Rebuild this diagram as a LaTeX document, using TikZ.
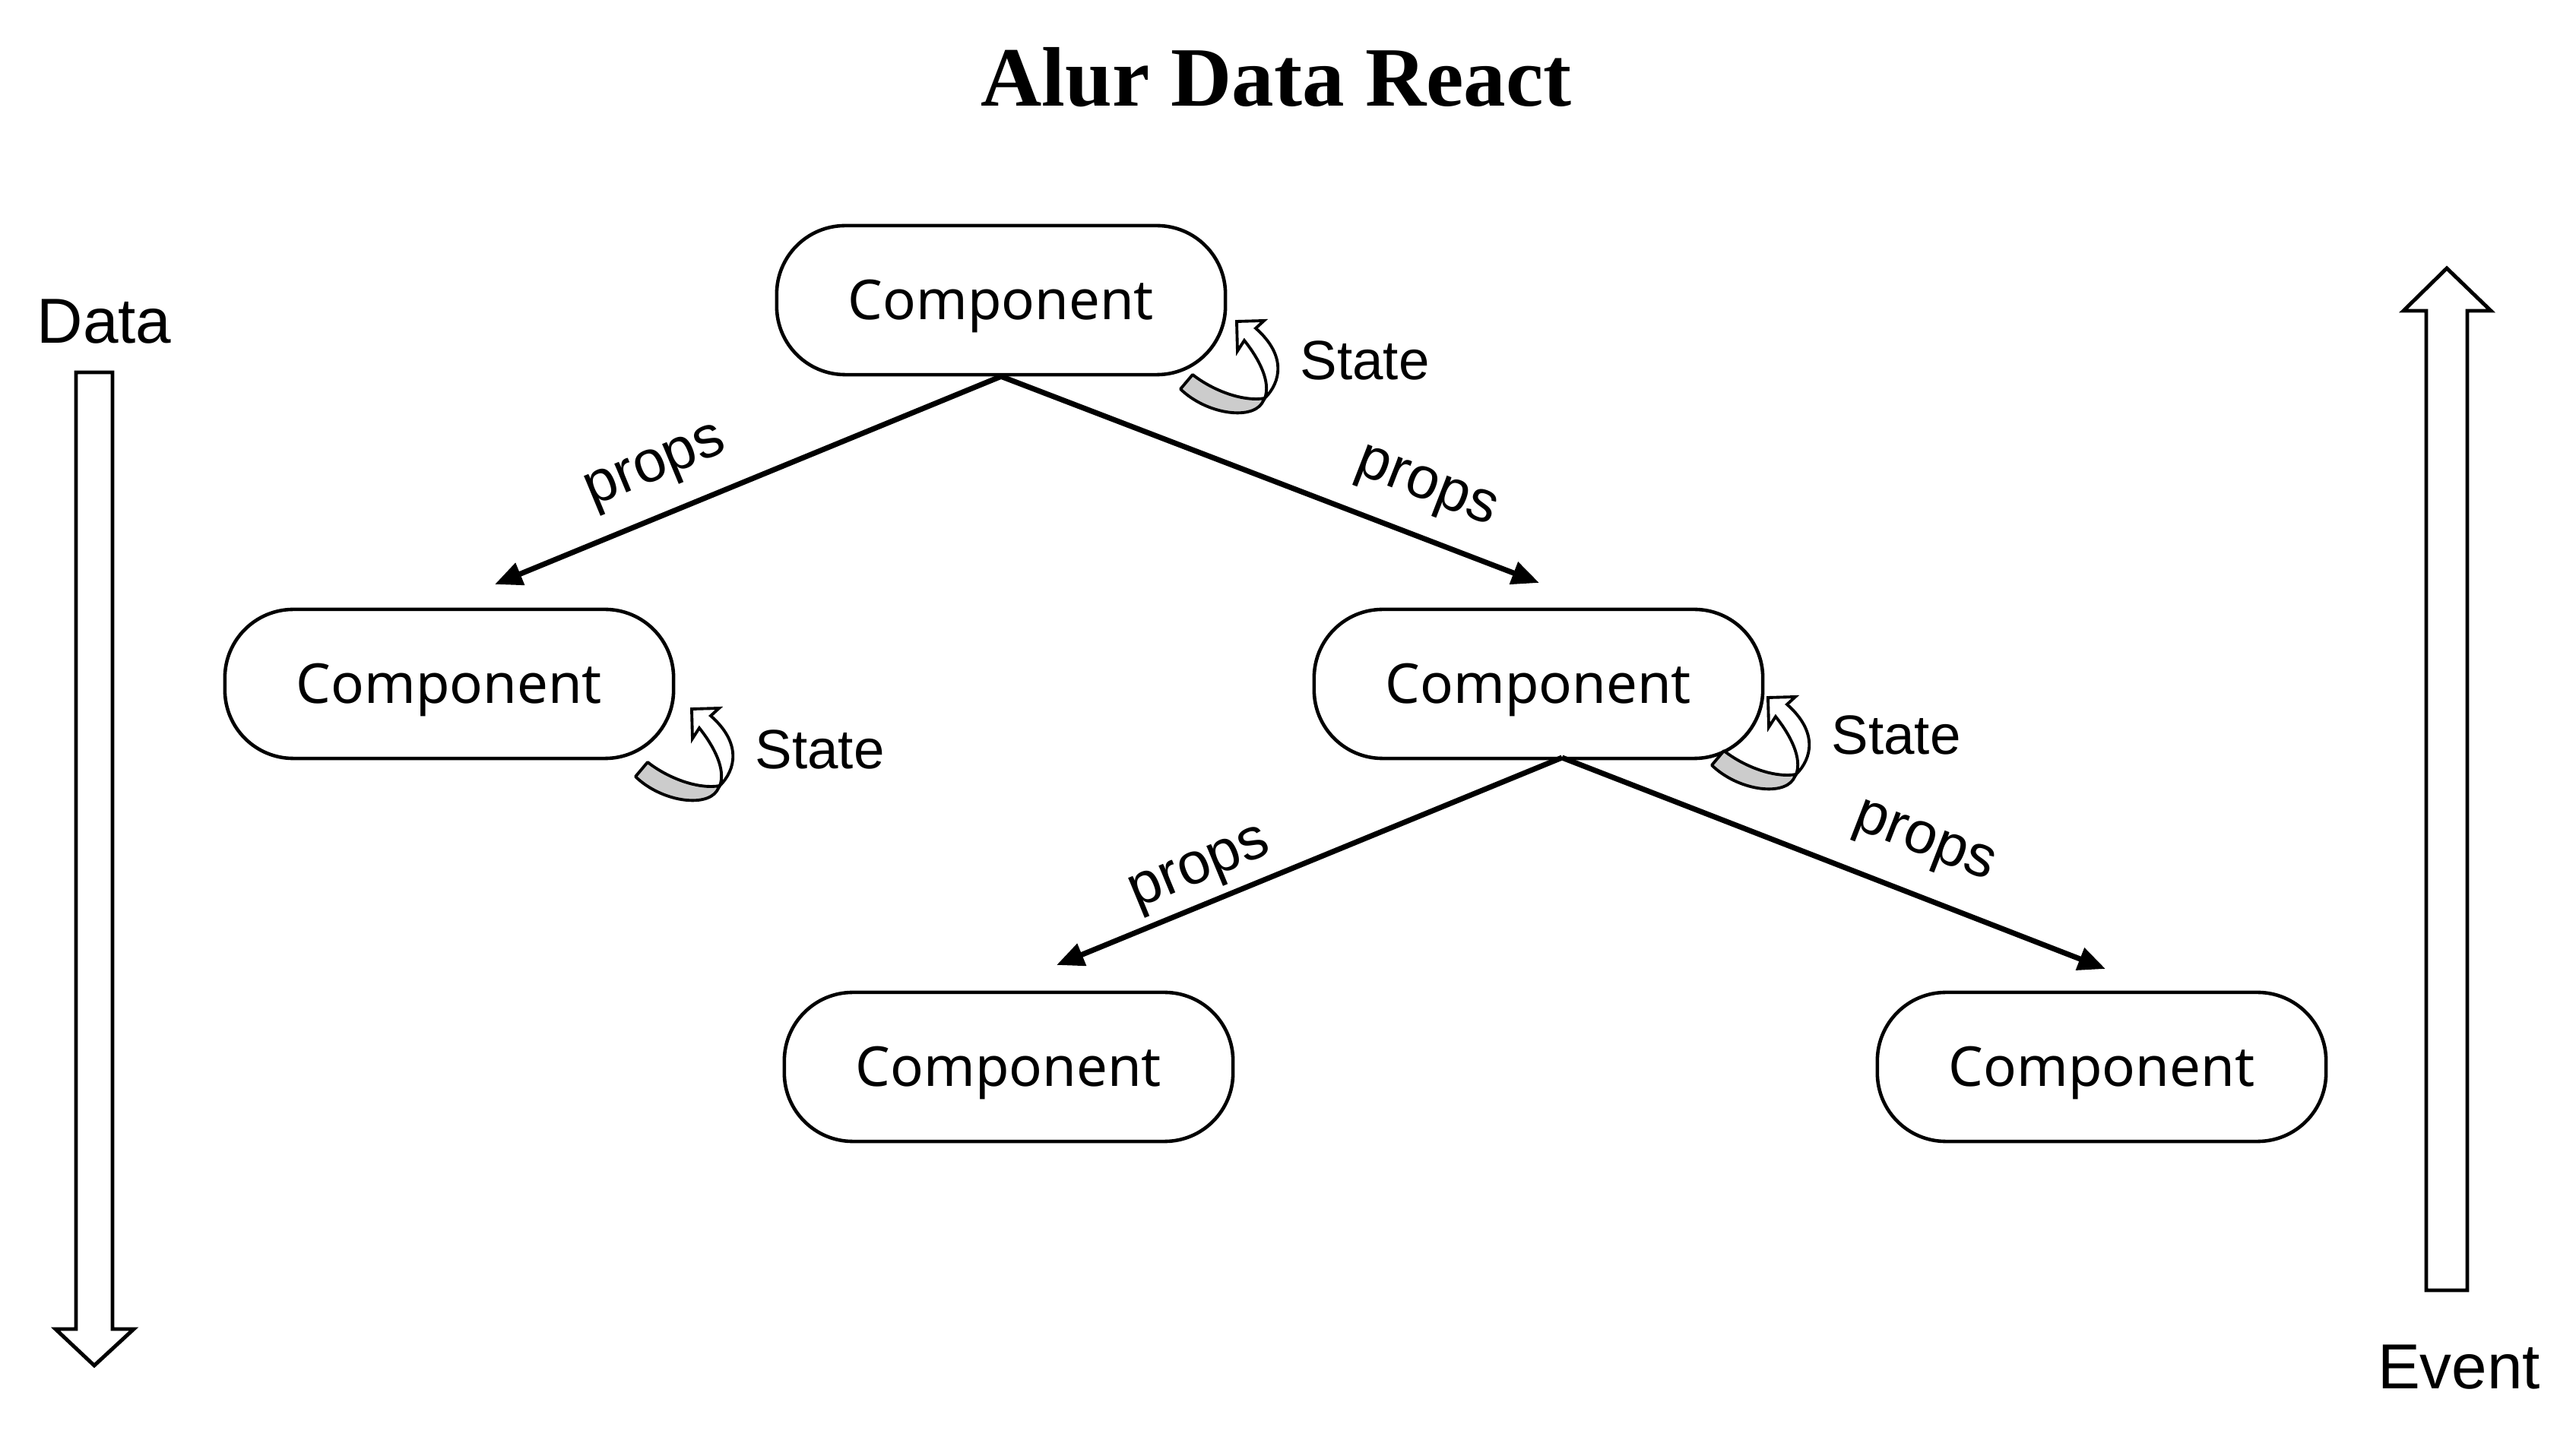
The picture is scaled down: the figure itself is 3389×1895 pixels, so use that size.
\documentclass[tikz,border=0pt]{standalone}
\usepackage{fontspec}
\setmainfont{Liberation Sans}
\newfontfamily\compfont{Noto Sans}
\newfontfamily\titlefont{Liberation Serif}
\usetikzlibrary{arrows.meta}
\tikzset{
  comp/.style={draw, line width=1.3pt, rounded corners=0.9cm, minimum width=5.9cm,
    minimum height=1.96cm, inner sep=0pt, text height=14.7pt, text depth=0pt,
    font=\compfont\fontsize{20.6pt}{24pt}\selectfont},
  propsarrow/.style={line width=2pt, -{Triangle[length=0.36cm,width=0.3cm]}},
  propslbl/.style={font=\fontsize{22pt}{26pt}\selectfont, inner sep=0pt},
  statelbl/.style={font=\fontsize{20.7pt}{24pt}\selectfont, inner sep=0pt, anchor=base west},
  sidelbl/.style={font=\fontsize{23.8pt}{28pt}\selectfont, inner sep=0pt, anchor=base},
  blockarrow/.style={draw, line width=1.4pt, fill=white, line join=miter},
  curlback/.style={draw, line width=1.1pt, fill=black!20, line join=round},
  curlfront/.style={draw, line width=1.1pt, fill=white, line join=miter},
}
\newcommand{\curlarrow}{%
  \path[curlback] (-74,89) -- (-58,70) .. controls (-30,92) and (10,106) .. (37,101)
     -- (33,108) .. controls (18,130) and (-40,122) .. (-74,89) -- cycle;
  \path[curlfront] (37,101) .. controls (58,80) and (66,45) .. (25,9) -- (36,-1) -- (0,0)
     -- (1,39) -- (10,25) .. controls (30,50) and (45,80) .. (37,101) -- cycle;
}
\begin{document}
\begin{tikzpicture}[x=0.01cm, y=-0.01cm]
\useasboundingbox (0,0) rectangle (3389,1895);
\fill[white] (0,0) rectangle (3389,1895);

% title
\node[anchor=base, inner sep=0pt, font=\titlefont\bfseries\fontsize{31.6pt}{36pt}\selectfont] (title) at (1679,140) {Alur Data React};

% side labels and block arrows
\node[sidelbl] (data) at (137,452) {Data};
\node[sidelbl] (event) at (3235,1827) {Event};
\path[blockarrow] (100,490) -- (148,490) -- (148,1749) -- (176,1749) -- (124,1797)
   -- (73,1749) -- (100,1749) -- cycle;
\path[blockarrow] (3192,1698) -- (3192,409) -- (3162,409) -- (3219,353) -- (3277,409)
   -- (3246,409) -- (3246,1698) -- cycle;

% components
\node[comp] (c1) at (1317,395) {Component};
\node[comp] (c2) at (591,900) {Component};
\node[comp] (c3) at (2024,900) {Component};
\node[comp] (c4) at (1327,1404) {Component};
\node[comp] (c5) at (2765,1404) {Component};

% connectors
\coordinate (e1) at (651,769);
\coordinate (e2) at (2025,767);
\coordinate (rs) at (2055,997);
\coordinate (e3) at (1390,1270);
\coordinate (e4) at (2770,1275);
\draw[propsarrow] (c1.south) -- (e1);
\draw[propsarrow] (c1.south) -- (e2);
\draw[propsarrow] (rs) -- (e3);
\draw[propsarrow] (rs) -- (e4);

\node[propslbl, rotate=22.5] (p1) at (864,618) {props};
\node[propslbl, rotate=-21.2] (p2) at (1875,645) {props};
\node[propslbl, rotate=22.4] (p3) at (1580,1147) {props};
\node[propslbl, rotate=-21.2] (p4) at (2530,1112) {props};

% state curls
\begin{scope}[shift={(1627,423)}]
  \curlarrow
  \node[statelbl] (s1) at (83,77) {State};
\end{scope}
\begin{scope}[shift={(910,933)}]
  \curlarrow
  \node[statelbl] (s2) at (83,79) {State};
\end{scope}
\begin{scope}[shift={(2326,918)}]
  \curlarrow
  \node[statelbl] (s3) at (83,75) {State};
\end{scope}
\end{tikzpicture}
\end{document}
